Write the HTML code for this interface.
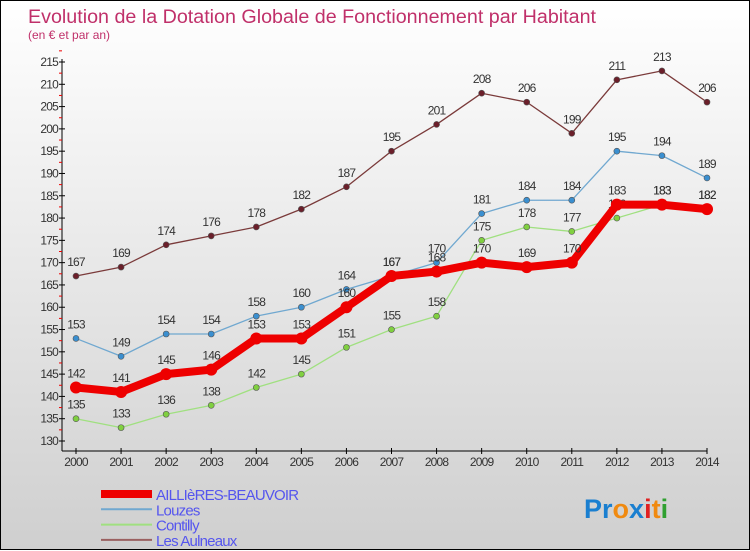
<!DOCTYPE html>
<html><head><meta charset="utf-8"><style>
body{margin:0;}
#c{width:748px;height:548px;border:1px solid #000;background:linear-gradient(#ffffff,#cfcfcf);position:relative;font-family:"Liberation Sans",sans-serif;}
svg{position:absolute;left:0;top:0}
</style></head><body>
<div id="c">
<svg id="s" width="750" height="550">
<text x="27" y="22" font-size="19.7" fill="#c0306a">Evolution de la Dotation Globale de Fonctionnement par Habitant</text>
<text x="27" y="38" font-size="12" fill="#c0306a">(en € et par an)</text>
<g id="axes"></g><g id="series"></g><g id="legend"></g>
<text x="583" y="517" font-size="27" font-weight="bold"><tspan fill="#1a7fd0">Pr</tspan><tspan fill="#f08a10">o</tspan><tspan fill="#1a7fd0">x</tspan><tspan fill="#e02020">i</tspan><tspan fill="#f08a10">t</tspan><tspan fill="#30a030">i</tspan></text>
</svg></div>
<script>
const years=[2000,2001,2002,2003,2004,2005,2006,2007,2008,2009,2010,2011,2012,2013,2014];
const yTicks=[130,135,140,145,150,155,160,165,170,175,180,185,190,195,200,205,210,215];
const aillieres=[142,141,145,146,153,153,160,167,168,170,169,170,183,183,182];
const louzes=[153,149,154,154,158,160,164,167,170,181,184,184,195,194,189];
const contilly=[135,133,136,138,142,145,151,155,158,175,178,177,180,183,182];
const aulneaux=[167,169,174,176,178,182,187,195,201,208,206,199,211,213,206];
const NS='http://www.w3.org/2000/svg';
const X=i=>75+i*(631/14);
const Y=v=>440-(v-130)*(379/85);
function mk(t,a,p){const e=document.createElementNS(NS,t);for(const k in a)e.setAttribute(k,a[k]);p.appendChild(e);return e;}
const ax=document.getElementById('axes');
const yl=mk('line',{x1:61,y1:58,x2:61,y2:450,stroke:'#000'},ax);


const xl=mk('line',{x1:61,y1:450,x2:706,y2:450,stroke:'#000'},ax);


yTicks.forEach(v=>{
 mk('line',{x1:58,y1:Y(v),x2:64,y2:Y(v),stroke:'#000'},ax);
 mk('line',{x1:58,y1:Y(v+2.5),x2:61,y2:Y(v+2.5),stroke:'#e00'},ax);
 const t=mk('text',{x:57,y:Y(v)+4,'font-size':12,fill:'#333','text-anchor':'end','letter-spacing':'-0.8'},ax);
 t.textContent=v;
 
 
});
years.forEach((y,i)=>{
 mk('line',{x1:X(i),y1:447,x2:X(i),y2:453,stroke:'#000'},ax);
 const t=mk('text',{x:X(i),y:465,'font-size':12,fill:'#333','text-anchor':'middle','letter-spacing':'-0.8'},ax);
 t.textContent=y;
 
 
});
const sg=document.getElementById('series');
const defs=[
 {d:aulneaux,c:'#7a3a3a',dot:'#6b1f2a',w:1.3,r:3,name:'les-aulneaux'},
 {d:louzes,c:'#70a8d0',dot:'#3a8fd0',w:1.3,r:3,name:'louzes'},
 {d:contilly,c:'#a0e080',dot:'#80d040',w:1.3,r:3,name:'contilly'},
 {d:aillieres,c:'#ee0000',dot:'#ee0000',w:8,r:6,name:'aillieres-beauvoir'}
];
defs.forEach(s=>{
 const g=mk('g',{},sg);
 
 
 const pl=mk('polyline',{points:s.d.map((v,i)=>X(i)+','+Y(v)).join(' '),fill:'none',stroke:s.c,'stroke-width':s.w,'stroke-linejoin':'round'},g);
 
 
 s.d.forEach((v,i)=>{
  const c=mk('circle',{cx:X(i),cy:Y(v),r:s.r,fill:s.dot,stroke:'#555','stroke-width':s.r>4?0:0.6},g);
  
  
  const t=mk('text',{x:X(i),y:Y(v)-10,'font-size':12,fill:'#333','text-anchor':'middle','letter-spacing':'-0.8'},g);
  t.textContent=v;
  
  
 });
});
const lg=document.getElementById('legend');
const items=[['AILLIèRES-BEAUVOIR','#ee0000',8],['Louzes','#70a8d0',2],['Contilly','#a0e080',2],['Les Aulneaux','#9a6060',2]];
items.forEach((it,i)=>{
 const y=493+i*15.3;
 const l=mk('line',{x1:100,y1:y,x2:151,y2:y,stroke:it[1],'stroke-width':it[2]},lg);
 
 
 const t=mk('text',{x:155,y:y+6,'font-size':15,fill:'#5555ee','letter-spacing':'-0.8'},lg);
 t.textContent=it[0];
 
 
});
</script>
</body></html>
